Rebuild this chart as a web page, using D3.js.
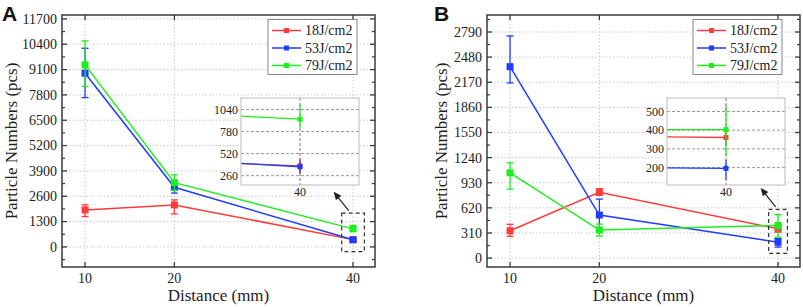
<!DOCTYPE html>
<html><head><meta charset="utf-8">
<script src="https://cdn.jsdelivr.net/npm/d3@7/dist/d3.min.js"></script>
<style>body{margin:0;background:#fff}svg{display:block}
.sf{font-family:"Liberation Serif","Times New Roman","DejaVu Serif",serif}
.ss{font-family:"Liberation Sans",Arial,sans-serif}</style>
</head><body>
<svg id="c" width="803" height="307"></svg>
<script>
// ---------- DATA ----------
const distances = [10, 20, 40];
const seriesNames = ["18J/cm2", "53J/cm2", "79J/cm2"];
const colors = ["#ff3b3b", "#1f3cff", "#1cf01c"];

// Panel A
const A_ticks = [0, 1300, 2600, 3900, 5200, 6500, 7800, 9100, 10400, 11700];
const A_18 = [1900, 2155, 375];   const A_18_up = [260, 260, 90];  const A_18_dn = [340, 460, 90];
const A_53 = [8913, 3063, 365];   const A_53_up = [1280, 300, 75]; const A_53_dn = [1250, 300, 80];
const A_79 = [9340, 3300, 925];   const A_79_up = [1230, 400, 175]; const A_79_dn = [1110, 400, 105];
const A_insetTicks = [260, 520, 780, 1040];

// Panel B
const B_ticks = [0, 310, 620, 930, 1240, 1550, 1860, 2170, 2480, 2790];
const B_18 = [337, 811, 361];     const B_18_up = [80, 45, 40];   const B_18_dn = [68, 35, 40];
const B_53 = [2362, 531, 196];    const B_53_up = [380, 197, 45]; const B_53_dn = [200, 190, 60];
const B_79 = [1053, 346, 403];    const B_79_up = [124, 74, 133]; const B_79_dn = [201, 74, 144];
const B_insetTicks = [200, 300, 400, 500];

const svg = d3.select("#c");

function panel(cfg) {
  const g = svg.append("g");
  const x = d3.scaleLinear().domain([7.42, 42.46]).range([cfg.left, cfg.left + 313]);
  const y = d3.scaleLinear().domain(cfg.yDomain).range([267, 15]);
  const [x0, x1] = x.range(); const [y0, y1] = y.range();

  // grid
  g.selectAll(".gy").data(cfg.ticks).join("line")
    .attr("x1", x0).attr("x2", x1).attr("y1", d => y(d)).attr("y2", d => y(d))
    .attr("stroke", "#c8c8c8").attr("stroke-width", 1).attr("stroke-dasharray", "1.5,2");
  g.selectAll(".gx").data(distances).join("line")
    .attr("x1", d => x(d)).attr("x2", d => x(d)).attr("y1", y0).attr("y2", y1)
    .attr("stroke", "#c8c8c8").attr("stroke-width", 1).attr("stroke-dasharray", "1.5,2");

  // series
  const series = cfg.series;
  series.forEach((s, i) => {
    const pts = distances.map((d, j) => ({x: d, v: s.v[j], up: s.up[j], dn: s.dn[j]}));
    g.append("path").datum(pts)
      .attr("d", d3.line().x(d => x(d.x)).y(d => y(d.v)))
      .attr("fill", "none").attr("stroke", colors[i]).attr("stroke-width", 1.5);
    const eb = g.append("g");
    pts.forEach(p => {
      eb.append("line").attr("x1", x(p.x)).attr("x2", x(p.x)).attr("y1", y(p.v + p.up)).attr("y2", y(p.v - p.dn))
        .attr("stroke", colors[i]).attr("stroke-width", 1.3);
      [p.v + p.up, p.v - p.dn].forEach(e => eb.append("line")
        .attr("x1", x(p.x) - 3.5).attr("x2", x(p.x) + 3.5).attr("y1", y(e)).attr("y2", y(e))
        .attr("stroke", colors[i]).attr("stroke-width", 1.3));
    });
    g.selectAll(null).data(pts).join("rect")
      .attr("x", d => x(d.x) - 3.5).attr("y", d => y(d.v) - 3.5)
      .attr("width", 7).attr("height", 7).attr("fill", colors[i]);
  });

  // frame
  g.append("rect").attr("x", x0).attr("y", y1).attr("width", x1 - x0).attr("height", y0 - y1)
    .attr("fill", "none").attr("stroke", "#3a3a3a").attr("stroke-width", 1.5);

  const step = cfg.ticks[1] - cfg.ticks[0];
  const minors = cfg.ticks.map(t => t + step / 2).concat([cfg.ticks[0] - step / 2])
    .filter(v => v > cfg.yDomain[0] && v < cfg.yDomain[1]);
  [[x0, 1], [x1, -1]].forEach(([xx, dir]) => {
    g.selectAll(null).data(cfg.ticks).join("line")
      .attr("x1", xx).attr("x2", xx + dir * 5).attr("y1", d => y(d)).attr("y2", d => y(d))
      .attr("stroke", "#3a3a3a").attr("stroke-width", 1.3);
    g.selectAll(null).data(minors).join("line")
      .attr("x1", xx).attr("x2", xx + dir * 3).attr("y1", d => y(d)).attr("y2", d => y(d))
      .attr("stroke", "#3a3a3a").attr("stroke-width", 1.2);
  });
  [[y0, -1], [y1, 1]].forEach(([yy, dir]) => {
    g.selectAll(null).data(distances).join("line")
      .attr("x1", d => x(d)).attr("x2", d => x(d)).attr("y1", yy).attr("y2", yy + dir * 5)
      .attr("stroke", "#3a3a3a").attr("stroke-width", 1.3);
  });

  // tick labels
  g.selectAll(null).data(cfg.ticks).join("text").attr("class", "sf")
    .attr("x", x0 - 5).attr("y", d => y(d)).attr("dy", "0.35em").attr("text-anchor", "end")
    .attr("font-size", 14).attr("fill", "#222").text(d => d);
  g.selectAll(null).data(distances).join("text").attr("class", "sf")
    .attr("x", d => x(d)).attr("y", 283).attr("text-anchor", "middle")
    .attr("font-size", 14).attr("fill", "#222").text(d => d);

  // axis titles
  g.append("text").attr("class", "sf").attr("x", (x0 + x1) / 2).attr("y", 301).attr("text-anchor", "middle")
    .attr("font-size", 17).attr("fill", "#222").text("Distance (mm)");
  g.append("text").attr("class", "sf").attr("transform", `translate(${cfg.titleX},${(y0 + y1) / 2}) rotate(-90)`)
    .attr("text-anchor", "middle").attr("font-size", 17).attr("fill", "#222")
    .text("Particle Numbers (pcs)");

  // panel letter
  g.append("text").attr("class", "ss").attr("x", cfg.letterX).attr("y", 21)
    .attr("font-weight", "bold").attr("font-size", 21).attr("fill", "#111").text(cfg.letter);

  // legend
  const lg = g.append("g");
  lg.append("rect").attr("x", cfg.legX).attr("y", 19.5).attr("width", 89).attr("height", 55)
    .attr("fill", "#fff").attr("stroke", "#888").attr("stroke-width", 1);
  seriesNames.forEach((n, i) => {
    const yy = 30.5 + i * 17.5;
    lg.append("line").attr("x1", cfg.legX + 4).attr("x2", cfg.legX + 33).attr("y1", yy).attr("y2", yy)
      .attr("stroke", colors[i]).attr("stroke-width", 1.5);
    lg.append("rect").attr("x", cfg.legX + 16).attr("y", yy - 2.5).attr("width", 5).attr("height", 5).attr("fill", colors[i]);
    lg.append("text").attr("class", "sf").attr("x", cfg.legX + 37).attr("y", yy).attr("dy", "0.35em")
      .attr("font-size", 14).attr("fill", "#222").text(n);
  });

  // dashed box around 40
  const bx0 = x(40 - cfg.boxDX), bx1 = x(40 + cfg.boxDX);
  const by0 = y(cfg.boxY[1]), by1 = y(cfg.boxY[0]);
  g.append("rect").attr("x", bx0).attr("y", by0).attr("width", bx1 - bx0).attr("height", by1 - by0)
    .attr("fill", "none").attr("stroke", "#333").attr("stroke-width", 1.2).attr("stroke-dasharray", "4,3");
  // arrow
  const tx = bx0 + 7, ty = by0 - 2.5, hx = tx - 15, hy = ty - 19;
  g.append("line").attr("x1", tx).attr("y1", ty).attr("x2", hx + 3).attr("y2", hy + 4)
    .attr("stroke", "#222").attr("stroke-width", 1.2);
  const ang = Math.atan2(hy - ty, hx - tx);
  const L = 8, W = 3.5;
  const bxp = hx - L * Math.cos(ang), byp = hy - L * Math.sin(ang);
  g.append("path").attr("d", `M${hx},${hy}L${bxp + W * Math.sin(ang)},${byp - W * Math.cos(ang)}L${bxp - W * Math.sin(ang)},${byp + W * Math.cos(ang)}Z`)
    .attr("fill", "#222");

  // inset
  const ig = g.append("g");
  const ix = d3.scaleLinear().domain(cfg.insetX).range([cfg.insetLeft, cfg.insetLeft + 118]);
  const iy = d3.scaleLinear().domain(cfg.insetY).range([185, 98]);
  const clipId = "clip" + cfg.letter;
  ig.append("clipPath").attr("id", clipId).append("rect")
    .attr("x", ix.range()[0]).attr("y", 98).attr("width", 118).attr("height", 87);
  ig.append("rect").attr("x", ix.range()[0]).attr("y", 98).attr("width", 118).attr("height", 87)
    .attr("fill", "#fff");
  ig.selectAll(null).data(cfg.insetTicks).join("line")
    .attr("x1", ix.range()[0]).attr("x2", ix.range()[1]).attr("y1", d => iy(d)).attr("y2", d => iy(d))
    .attr("stroke", "#999").attr("stroke-width", 1).attr("stroke-dasharray", "3,2");
  ig.append("line").attr("x1", ix(40)).attr("x2", ix(40)).attr("y1", 98).attr("y2", 185)
    .attr("stroke", "#777").attr("stroke-width", 1).attr("stroke-dasharray", "3,2");
  const ic = ig.append("g").attr("clip-path", `url(#${clipId})`);
  series.forEach((s, i) => {
    const pts = distances.map((d, j) => ({x: d, v: s.v[j], up: s.up[j], dn: s.dn[j]}));
    ic.append("path").datum(pts).attr("d", d3.line().x(d => ix(d.x)).y(d => iy(d.v)))
      .attr("fill", "none").attr("stroke", colors[i]).attr("stroke-width", 1.3);
    const p = pts[2];
    ic.append("line").attr("x1", ix(40)).attr("x2", ix(40)).attr("y1", iy(p.v + p.up)).attr("y2", iy(p.v - p.dn))
      .attr("stroke", colors[i]).attr("stroke-width", 1.2);
    ic.append("rect").attr("x", ix(40) - 2.5).attr("y", iy(p.v) - 2.5).attr("width", 5).attr("height", 5)
      .attr("fill", colors[i]);
  });
  ig.append("rect").attr("x", ix.range()[0]).attr("y", 98).attr("width", 118).attr("height", 87)
    .attr("fill", "none").attr("stroke", "#bbb").attr("stroke-width", 1);
  ig.selectAll(null).data(cfg.insetTicks).join("text").attr("class", "sf")
    .attr("x", ix.range()[0] - 3).attr("y", d => iy(d)).attr("dy", "0.35em").attr("text-anchor", "end")
    .attr("font-size", 12).attr("fill", "#222").text(d => d);
  ig.append("text").attr("class", "sf").attr("x", ix(40)).attr("y", 196).attr("text-anchor", "middle")
    .attr("font-size", 12).attr("fill", "#222").text("40");
}

panel({
  letter: "A", letterX: 2, left: 62, titleX: 17, legX: 268,
  yDomain: [-1030, 11900], ticks: A_ticks,
  series: [{v: A_18, up: A_18_up, dn: A_18_dn}, {v: A_53, up: A_53_up, dn: A_53_dn}, {v: A_79, up: A_79_up, dn: A_79_dn}],
  boxDX: 1.27, boxY: [-240, 1730],
  insetLeft: 241, insetX: [39.7, 40.3], insetY: [150, 1175], insetTicks: A_insetTicks
});
panel({
  letter: "B", letterX: 434, left: 487, titleX: 447, legX: 693,
  yDomain: [-110, 3000], ticks: B_ticks,
  series: [{v: B_18, up: B_18_up, dn: B_18_dn}, {v: B_53, up: B_53_up, dn: B_53_dn}, {v: B_79, up: B_79_up, dn: B_79_dn}],
  boxDX: 1.05, boxY: [58, 601],
  insetLeft: 667, insetX: [39.85, 40.15], insetY: [107, 572], insetTicks: B_insetTicks
});
</script>
</body></html>
